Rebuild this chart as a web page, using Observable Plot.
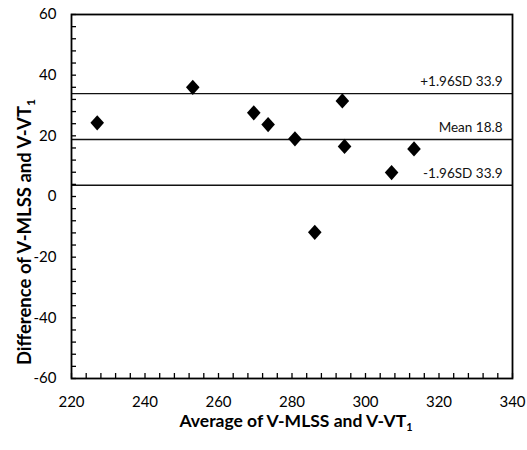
<!DOCTYPE html>
<html>
<head>
<meta charset="utf-8">
<script src="https://cdn.jsdelivr.net/npm/d3@7"></script>
<script src="https://cdn.jsdelivr.net/npm/@observablehq/plot@0.6"></script>
<style>
  html, body { margin: 0; padding: 0; background: #fff; }
  #chart { width: 527px; height: 450px; }
</style>
</head>
<body>
<div id="chart"></div>
<script>
// Data (Bland–Altman plot)
const averages    = [227.0, 253.0, 269.6, 273.5, 280.8, 286.2, 293.7, 294.3, 307.1, 313.2];
const differences = [24.3, 36.0, 27.6, 23.7, 19.0, -11.8, 31.5, 16.5, 7.9, 15.7];

const lineValues = [33.9, 18.8, 3.7];
const lineLabels = ["+1.96SD 33.9", "Mean 18.8", "-1.96SD 33.9"];

const xTicks = d3.range(220, 341, 4);
const yTicks = d3.range(-60, 61, 4);
const xLabels = [220, 240, 260, 280, 300, 320, 340];
const yLabels = [-60, -40, -20, 0, 20, 40, 60];

const points = averages.map((a, i) => ({avg: a, diff: differences[i]}));
const lines = lineValues.map((v, i) => ({value: v, label: lineLabels[i]}));

// diamond, slightly taller than wide
const diamond = {
  draw(ctx) {
    const w = 6.8, h = 7.6;
    ctx.moveTo(0, -h);
    ctx.lineTo(w, 0);
    ctx.lineTo(0, h);
    ctx.lineTo(-w, 0);
    ctx.closePath();
  }
};

const font = "Lato, 'Open Sans', sans-serif";
const fmt = d => String(d); // hyphen-minus as in the reference

const chart = Plot.plot({
  width: 527,
  height: 450,
  marginLeft: 71,
  marginRight: 15,
  marginTop: 14,
  marginBottom: 72,
  style: {fontFamily: font, fontSize: "15px", color: "#000", background: "#fff"},
  x: {domain: [220, 340]},
  y: {domain: [-60, 60]},
  marks: [
    Plot.ruleY(lines, {y: "value", stroke: "#111", strokeWidth: 1.4}),
    Plot.text(lines, {
      x: () => 340, y: "value", text: "label",
      textAnchor: "end", dx: -10, dy: -12,
      fontSize: 13.5, fill: "#111"
    }),
    Plot.dot(points, {x: "avg", y: "diff", symbol: () => diamond, fill: "#000", stroke: "none", r: 7}),
    // inward tick marks
    Plot.axisX({ticks: xTicks, tickSize: -5, fill: "none", label: null, strokeWidth: 1.3}),
    Plot.axisY({ticks: yTicks, tickSize: -5, fill: "none", label: null, strokeWidth: 1.3}),
    // tick labels
    Plot.axisX({ticks: xLabels, tickSize: 0, tickPadding: 18, tickFormat: fmt, label: null, fontSize: 15}),
    Plot.axisY({ticks: yLabels, tickSize: 0, tickPadding: 15, tickFormat: fmt, label: null, fontSize: 15}),
    Plot.frame({stroke: "#000", strokeWidth: 1.8})
  ]
});

document.getElementById("chart").appendChild(chart);

// Axis titles with subscripts
const svg = d3.select(chart);
const xt = svg.append("text")
  .attr("x", 296).attr("y", 427)
  .attr("text-anchor", "middle")
  .attr("font-family", font).attr("font-weight", "bold").attr("font-size", 17.5)
  .attr("fill", "#000");
xt.append("tspan").text("Average of V-MLSS and V-VT");
xt.append("tspan").attr("font-size", 11).attr("dy", 4).text("1");

const yt = svg.append("text")
  .attr("transform", "translate(31,232) rotate(-90)")
  .attr("text-anchor", "middle")
  .attr("font-family", font).attr("font-weight", "bold").attr("font-size", 18.5)
  .attr("fill", "#000");
yt.append("tspan").text("Difference of V-MLSS and V-VT");
yt.append("tspan").attr("font-size", 12).attr("dy", 4).text("1");
</script>
</body>
</html>
